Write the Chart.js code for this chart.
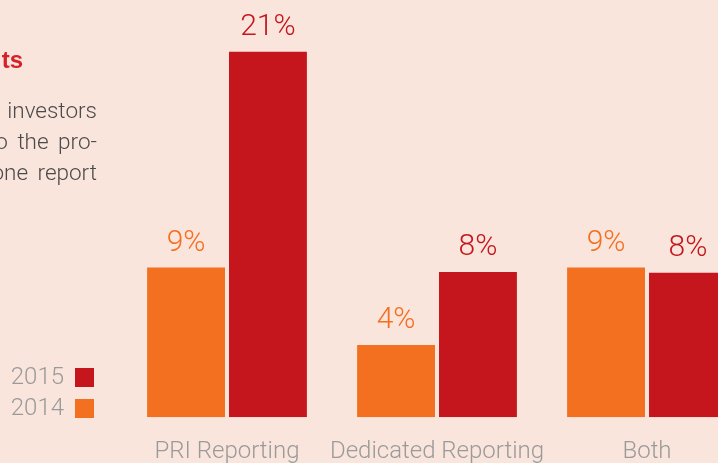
<!DOCTYPE html>
<html>
<head>
<meta charset="utf-8">
<script src="https://cdn.jsdelivr.net/npm/chart.js@4"></script>
<style>
  html, body { margin: 0; padding: 0; width: 718px; height: 463px; overflow: hidden; background: #fae5dc; }
  #wrap { position: relative; width: 718px; height: 463px; overflow: hidden; }
  #chart { position: absolute; left: 0; top: 0; }
  .title { position: absolute; right: 695px; top: 46px; font: bold 24px "Liberation Sans", Arial, sans-serif; color: #d7212a; white-space: nowrap; }
  .line { position: absolute; right: 621px; width: 300px; text-align: right; font: 300 22.5px Roboto, sans-serif; color: #4a4a4a; white-space: nowrap; word-spacing: 4px; }
  .leg { position: absolute; left: 4px; width: 60px; text-align: right; font: 300 24px Roboto, sans-serif; color: #9a9a9a; }
  .box { position: absolute; left: 75px; width: 19px; height: 19px; }
</style>
</head>
<body>
<div id="wrap">
  <canvas id="chart" width="760" height="486"></canvas>
  <div class="title">Key Results</div>
  <div class="line" style="top:97px">as investors</div>
  <div class="line" style="top:128px">to the pro-</div>
  <div class="line" style="top:159px">in one report</div>
  <div class="leg" style="top:362px">2015</div>
  <div class="box" style="top:368px;background:#c4161c"></div>
  <div class="leg" style="top:393px">2014</div>
  <div class="box" style="top:399px;background:#f37021"></div>
</div>
<script>
const categories = ["PRI Reporting", "Dedicated Reporting", "Both"];
const values2014 = [8.6, 4.15, 8.6];
const values2015 = [21, 8.35, 8.3];
const orange = "#f37021";
const red = "#c4161c";

const barLabels = {
    id: "barLabels",
    afterDatasetsDraw(chart) {
        const ctx = chart.ctx;
        ctx.save();
        ctx.font = "300 30px Roboto, sans-serif";
        ctx.textAlign = "center";
        ctx.textBaseline = "alphabetic";
        chart.data.datasets.forEach((ds, i) => {
            chart.getDatasetMeta(i).data.forEach((bar, j) => {
                ctx.fillStyle = ds.backgroundColor;
                ctx.fillText(Math.round(ds.data[j]) + "%", bar.x, bar.y - 17);
            });
        });
        ctx.restore();
    }
};

new Chart(document.getElementById("chart").getContext("2d"), {
    type: "bar",
    data: {
        labels: categories,
        datasets: [
            { label: "2014", data: values2014, backgroundColor: orange },
            { label: "2015", data: values2015, backgroundColor: red }
        ]
    },
    options: {
        responsive: false,
        animation: false,
        devicePixelRatio: 1,
        layout: { padding: { left: 122, right: 8, top: 17, bottom: 0 } },
        datasets: { bar: { categoryPercentage: 0.78, barPercentage: 0.951 } },
        plugins: { legend: { display: false }, tooltip: { enabled: false } },
        scales: {
            y: { display: false, min: 0, max: 23 },
            x: {
                grid: { display: false, drawTicks: false },
                border: { display: false },
                ticks: { color: "#9a9a9a", padding: 20, maxRotation: 0, minRotation: 0, autoSkip: false,
                         font: { family: "Roboto", size: 24, weight: 300 } }
            }
        }
    },
    plugins: [barLabels]
});
</script>
</body>
</html>
